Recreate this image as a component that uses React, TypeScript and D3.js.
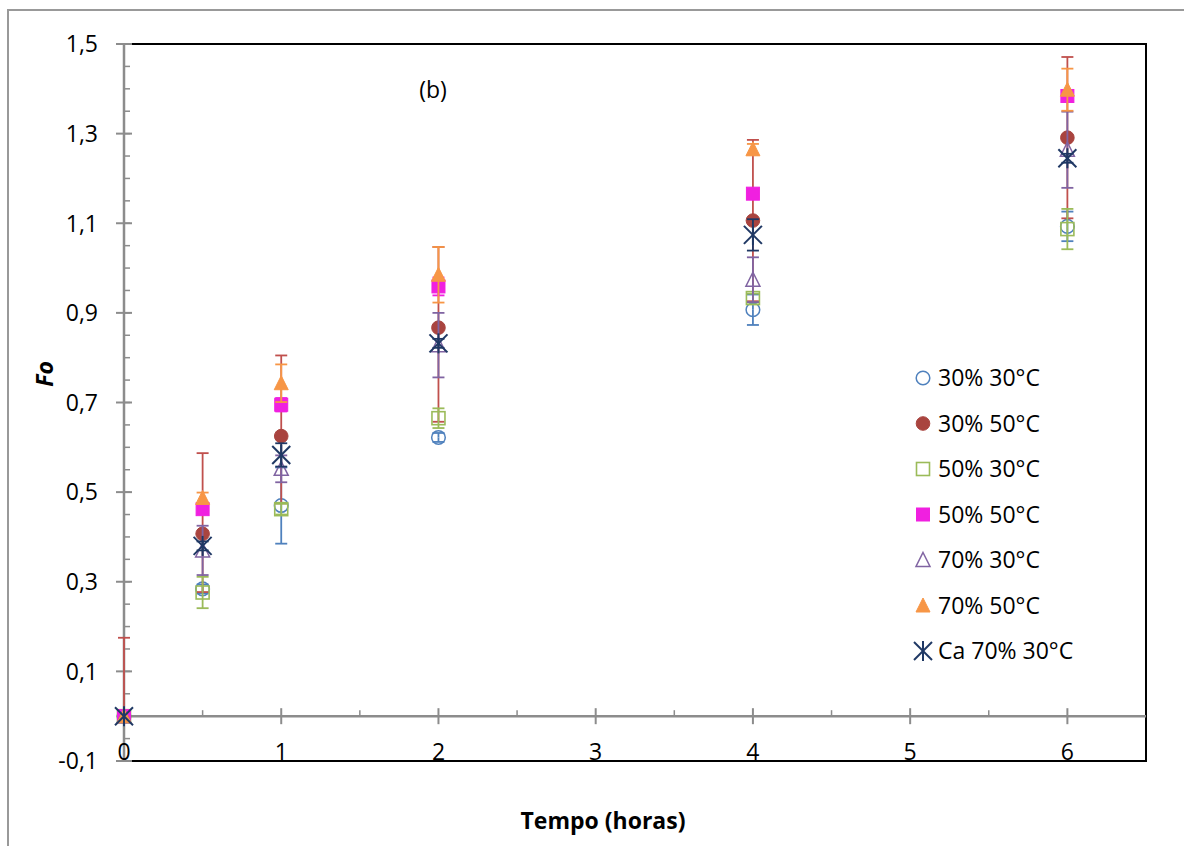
import React from "react";
import * as d3 from "d3";

// Sampling times (hours)
const hours = [0, 0.5, 1, 2, 4, 6];

// Fo values per condition
const fo30_30 = [0, 0.284, 0.47, 0.622, 0.907, 1.093];
const fo30_50 = [0, 0.407, 0.625, 0.867, 1.106, 1.291];
const fo50_30 = [0, 0.276, 0.462, 0.665, 0.933, 1.087];
const fo50_50 = [0, 0.462, 0.695, 0.959, 1.166, 1.384];
const fo70_30 = [0, 0.37, 0.552, 0.828, 0.974, 1.264];
const fo70_50 = [0, 0.487, 0.743, 0.985, 1.265, 1.398];
const foCa70_30 = [0, 0.38, 0.583, 0.832, 1.074, 1.245];

// Error bar extents (upper / lower)
const err30_30 = [0, 0.01, 0.085, 0.01, 0.034, 0.033];
const err30_50Plus = [0.175, 0.18, 0.18, 0.18, 0.18, 0.18];
const err30_50Minus = [0, 0.13, 0.15, 0.21, 0.18, 0.18];
const err50_30 = [0, 0.035, 0.012, 0.022, 0.01, 0.045];
const err50_50 = [0, 0.01, 0.015, 0.02, 0.01, 0.01];
const err70_30 = [0, 0.055, 0.03, 0.072, 0.05, 0.085];
const err70_50 = [0, 0.012, 0.042, 0.062, 0.012, 0.047];
const errCa70_30 = [0, 0.01, 0.026, 0.01, 0.035, 0.01];

const seriesNames = [
  "30% 30°C",
  "30% 50°C",
  "50% 30°C",
  "50% 50°C",
  "70% 30°C",
  "70% 50°C",
  "Ca 70% 30°C",
];

// Axis tick labels
const yTickValues = [-0.1, 0.1, 0.3, 0.5, 0.7, 0.9, 1.1, 1.3, 1.5];
const xTickValues = [0, 1, 2, 3, 4, 5, 6];

type Shape = "circle" | "square" | "triangle" | "star";

interface Series {
  name: string;
  values: number[];
  plus: number[];
  minus: number[];
  shape: Shape;
  filled: boolean;
  color: string;
  barColor: string;
}

const series: Series[] = [
  { name: seriesNames[0], values: fo30_30, plus: err30_30, minus: err30_30, shape: "circle", filled: false, color: "#4F81BD", barColor: "#4F81BD" },
  { name: seriesNames[1], values: fo30_50, plus: err30_50Plus, minus: err30_50Minus, shape: "circle", filled: true, color: "#A9443F", barColor: "#C0504D" },
  { name: seriesNames[2], values: fo50_30, plus: err50_30, minus: err50_30, shape: "square", filled: false, color: "#9BBB59", barColor: "#9BBB59" },
  { name: seriesNames[3], values: fo50_50, plus: err50_50, minus: err50_50, shape: "square", filled: true, color: "#F020E0", barColor: "#F020E0" },
  { name: seriesNames[4], values: fo70_30, plus: err70_30, minus: err70_30, shape: "triangle", filled: false, color: "#8064A2", barColor: "#8064A2" },
  { name: seriesNames[5], values: fo70_50, plus: err70_50, minus: err70_50, shape: "triangle", filled: true, color: "#F79646", barColor: "#F79646" },
  { name: seriesNames[6], values: foCa70_30, plus: errCa70_30, minus: errCa70_30, shape: "star", filled: false, color: "#1F3864", barColor: "#1F3864" },
];

const W = 1184;
const H = 846;
const plot = { left: 124, right: 1146, top: 44, bottom: 761 };
const FONT = "'Open Sans', 'Noto Sans', sans-serif";

const x = d3.scaleLinear().domain([0, 6.5]).range([plot.left, plot.right]);
const y = d3.scaleLinear().domain([-0.1, 1.5]).range([plot.bottom, plot.top]);

const fmtY = (v: number) => d3.format(".1f")(v).replace("\u2212", "-").replace(".", ",");

function Marker({ shape, filled, color, cx, cy }: { shape: Shape; filled: boolean; color: string; cx: number; cy: number }) {
  const fill = filled ? color : "white";
  const fillOpacity = filled ? 1 : 0;
  if (shape === "circle") {
    return <circle cx={cx} cy={cy} r={6.8} fill={fill} fillOpacity={fillOpacity} stroke={color} strokeWidth={filled ? 1 : 1.5} />;
  }
  if (shape === "square") {
    const s = 13;
    return <rect x={cx - s / 2} y={cy - s / 2} width={s} height={s} fill={fill} fillOpacity={fillOpacity} stroke={color} strokeWidth={filled ? 1 : 1.6} />;
  }
  if (shape === "triangle") {
    const w = 14;
    const h = 13;
    const p = `M${cx},${cy - h / 2 - 1} L${cx + w / 2},${cy + h / 2} L${cx - w / 2},${cy + h / 2} Z`;
    return <path d={p} fill={fill} fillOpacity={fillOpacity} stroke={color} strokeWidth={filled ? 1 : 1.5} strokeLinejoin="miter" />;
  }
  const a = 9;
  const v = 10;
  return (
    <g stroke={color} strokeWidth={2}>
      <line x1={cx - a} y1={cy - a} x2={cx + a} y2={cy + a} />
      <line x1={cx - a} y1={cy + a} x2={cx + a} y2={cy - a} />
      <line x1={cx} y1={cy - v} x2={cx} y2={cy + v} />
    </g>
  );
}

export default function App() {
  const yMinor = d3.range(-0.1, 1.5001, 0.05);
  const xMinor = d3.range(0.5, 6.5, 1);
  const legendX = 923;
  const legendY0 = 378;
  const legendStep = 45.5;

  return (
    <svg
      width={W}
      height={H}
      viewBox={`0 0 ${W} ${H}`}
      style={{ position: "absolute", left: 0, top: 0, background: "white" }}
      fontFamily={FONT}
    >
      {/* chart border */}
      <path d={`M8,${H + 2} L8,10 L${W + 2},10`} fill="none" stroke="#999" strokeWidth={2} />

      {/* plot frame */}
      <path
        d={`M${plot.left},${plot.top} L${plot.right},${plot.top} L${plot.right},${plot.bottom} L${plot.left},${plot.bottom}`}
        fill="none"
        stroke="#000"
        strokeWidth={2}
      />

      {/* y axis */}
      <line x1={plot.left} y1={plot.top} x2={plot.left} y2={plot.bottom} stroke="#8c8c8c" strokeWidth={2.5} />
      {yMinor.map((v, i) => (
        <line key={`ym${i}`} x1={plot.left} x2={plot.left + 6} y1={y(v)} y2={y(v)} stroke="#8c8c8c" strokeWidth={1.5} />
      ))}
      {yTickValues.map((v) => (
        <g key={`yt${v}`}>
          <line x1={plot.left - 8} x2={plot.left + 8} y1={y(v)} y2={y(v)} stroke="#8c8c8c" strokeWidth={2} />
          <text x={98} y={y(v)} dy="0.36em" textAnchor="end" fontSize={23} fill="#000">
            {fmtY(v)}
          </text>
        </g>
      ))}

      {/* x axis at Fo = 0 */}
      <line x1={plot.left} y1={y(0)} x2={plot.right} y2={y(0)} stroke="#8c8c8c" strokeWidth={2.5} />
      {xMinor.map((v) => (
        <line key={`xm${v}`} x1={x(v)} x2={x(v)} y1={y(0) - 6} y2={y(0)} stroke="#8c8c8c" strokeWidth={1.5} />
      ))}
      {xTickValues.map((v) => (
        <g key={`xt${v}`}>
          <line x1={x(v)} x2={x(v)} y1={y(0) - 8} y2={y(0) + 8} stroke="#8c8c8c" strokeWidth={2} />
          <text x={x(v)} y={760} textAnchor="middle" fontSize={23} fill="#000">
            {v}
          </text>
        </g>
      ))}

      {/* series: error bars then markers */}
      {series.map((s, si) => (
        <g key={`s${si}`}>
          {hours.map((h, i) => {
            const cx = x(h);
            const top = y(s.values[i] + s.plus[i]);
            const bot = y(s.values[i] - s.minus[i]);
            const c = y(s.values[i]);
            return (
              <g key={`e${i}`} stroke={s.barColor} strokeWidth={1.8}>
                {s.plus[i] > 0 && (
                  <>
                    <line x1={cx} x2={cx} y1={c} y2={top} />
                    <line x1={cx - 6} x2={cx + 6} y1={top} y2={top} />
                  </>
                )}
                {s.minus[i] > 0 && (
                  <>
                    <line x1={cx} x2={cx} y1={c} y2={bot} />
                    <line x1={cx - 6} x2={cx + 6} y1={bot} y2={bot} />
                  </>
                )}
              </g>
            );
          })}
          {hours.map((h, i) => (
            <Marker key={`m${i}`} shape={s.shape} filled={s.filled} color={s.color} cx={x(h)} cy={y(s.values[i])} />
          ))}
        </g>
      ))}

      {/* panel label */}
      <text x={433} y={90} dy="0.36em" textAnchor="middle" fontSize={23} fill="#000">
        (b)
      </text>

      {/* legend */}
      {series.map((s, i) => {
        const ly = legendY0 + i * legendStep;
        return (
          <g key={`lg${i}`}>
            <Marker shape={s.shape} filled={s.filled} color={s.color} cx={legendX} cy={ly} />
            <text x={938} y={ly} dy="0.36em" fontSize={23} fill="#000">
              {s.name}
            </text>
          </g>
        );
      })}

      {/* axis titles */}
      <text x={603} y={829} textAnchor="middle" fontSize={23} fontWeight="bold" fill="#000">
        Tempo (horas)
      </text>
      <text
        transform={`translate(53,374) rotate(-90)`}
        textAnchor="middle"
        fontSize={23}
        fontWeight="bold"
        fontStyle="italic"
        fill="#000"
      >
        Fo
      </text>
    </svg>
  );
}
